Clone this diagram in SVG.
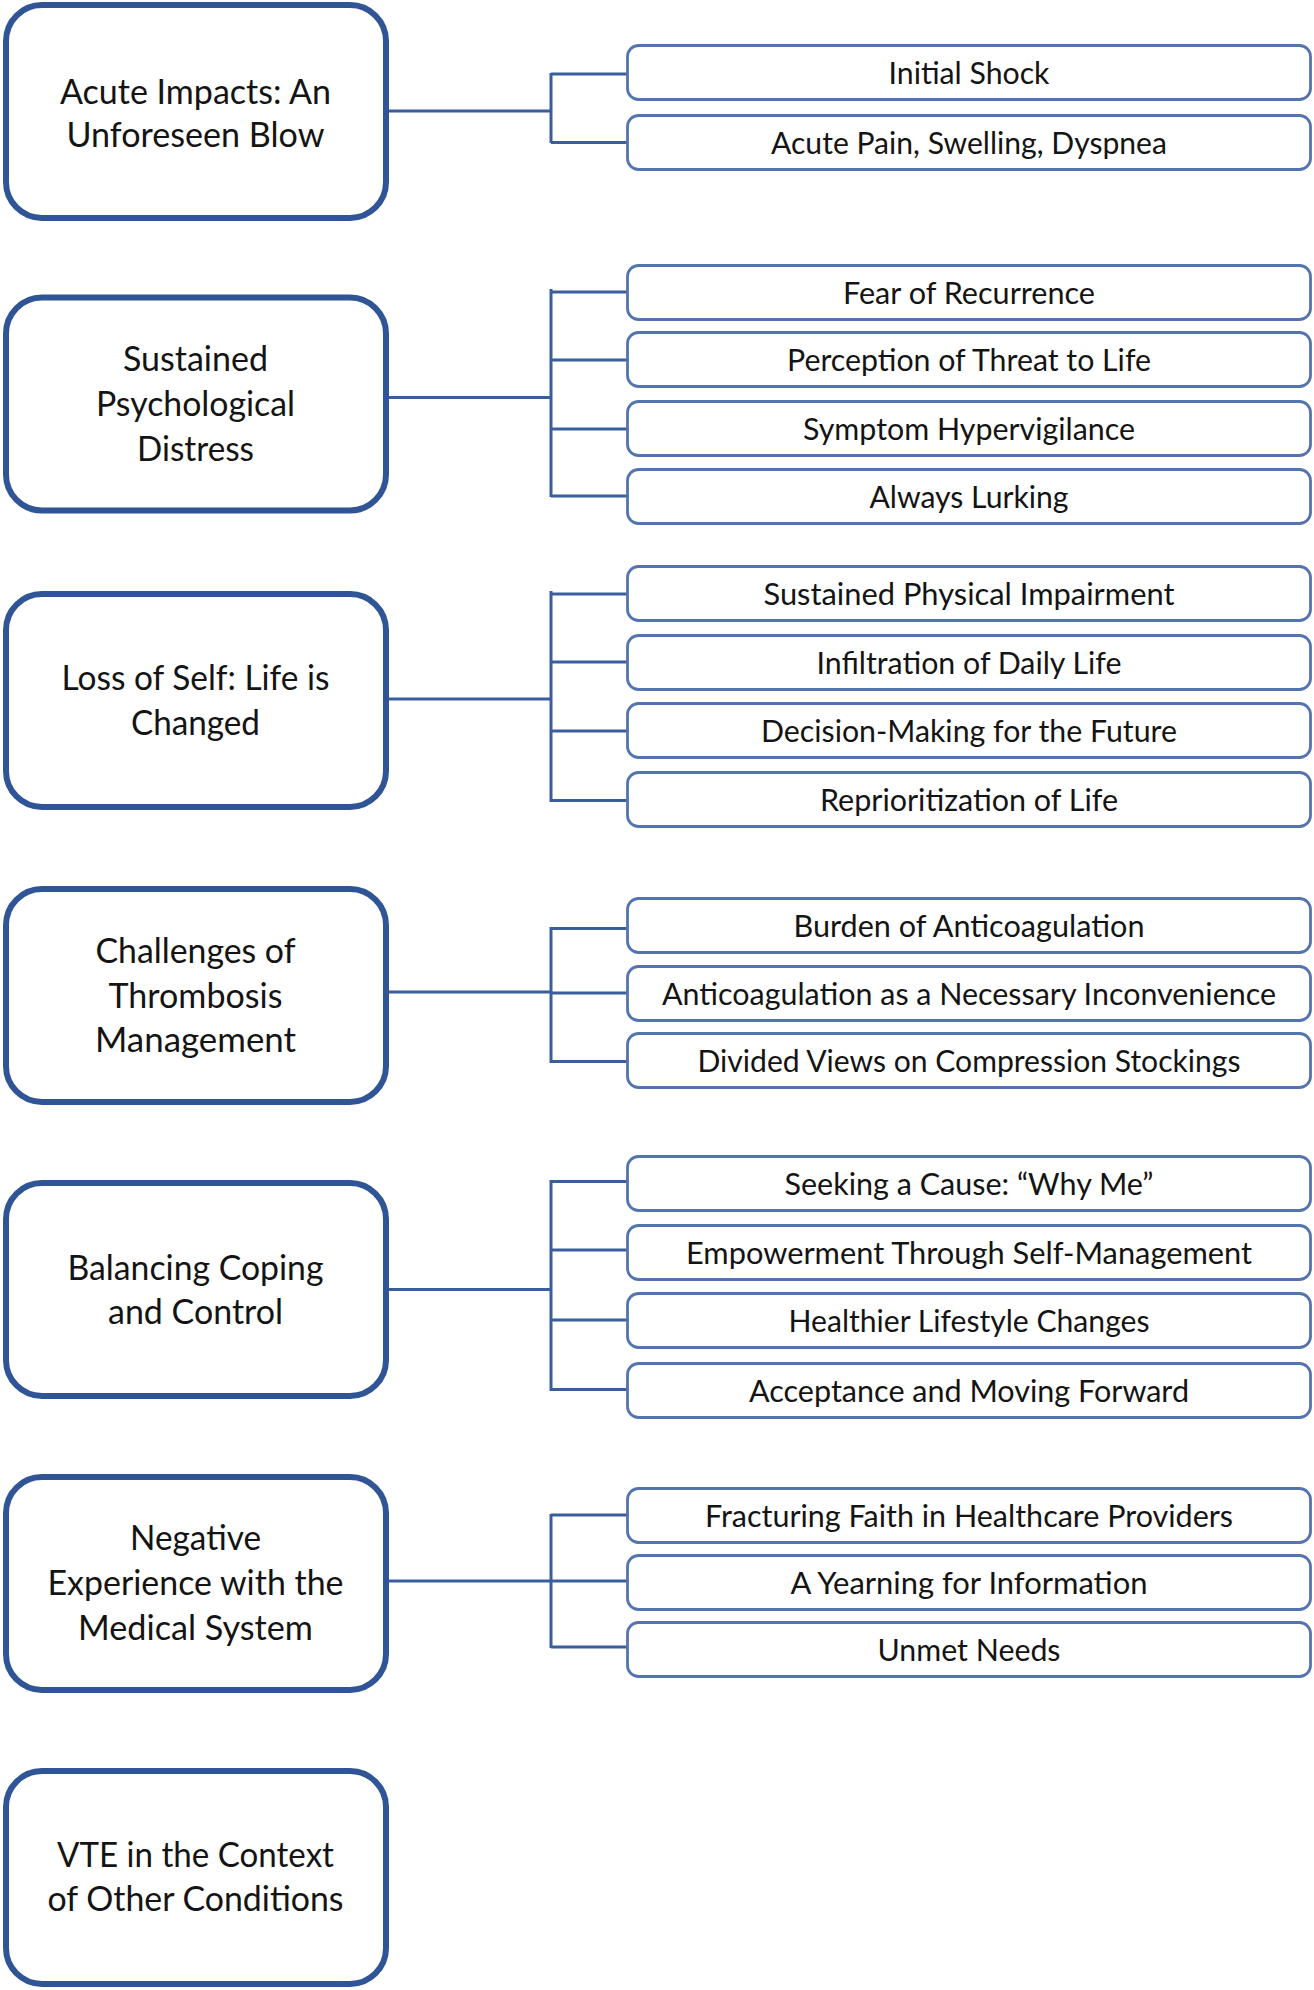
<svg xmlns="http://www.w3.org/2000/svg" width="1314" height="1990" viewBox="0 0 1314 1990">
<style>
.theme rect{fill:#fff;stroke:#2f5597;stroke-width:6}
.sub rect{fill:#fff;stroke:#5474b0;stroke-width:2.8}
.theme text{font-family:Lato,"Liberation Sans",sans-serif;font-size:34px;fill:#141414;text-anchor:middle}
.sub text{font-family:Lato,"Liberation Sans",sans-serif;font-size:30.5px;fill:#141414;text-anchor:middle}
#connectors path{fill:none;stroke:#3a5d9e;stroke-width:3}
</style>
<rect width="1314" height="1990" fill="#fff"/>
<g id="connectors">
<path d="M389 111H551M551 73V143M551 74H627M551 142.5H627"/>
<path d="M389 397.5H551M551 289V497M551 292H627M551 360H627M551 429H627M551 496H627"/>
<path d="M389 699H551M551 591V802M551 594H627M551 662H627M551 731H627M551 800.5H627"/>
<path d="M389 992H551M551 927V1063M551 928.5H627M551 993H627M551 1061.5H627"/>
<path d="M389 1289.5H551M551 1180V1391M551 1181.5H627M551 1250H627M551 1320H627M551 1389.5H627"/>
<path d="M389 1581H551M551 1514V1648M551 1515H627M551 1581H627M551 1647H627"/>
</g>
<g id="theme1" class="theme"><rect x="6" y="5" width="380" height="213" rx="36"/>
<text x="195.5" y="103.5" textLength="271" lengthAdjust="spacingAndGlyphs">Acute Impacts: An</text>
<text x="195.5" y="146.5" textLength="258" lengthAdjust="spacingAndGlyphs">Unforeseen Blow</text></g>
<g id="theme2" class="theme"><rect x="6" y="297.5" width="380" height="213" rx="36"/>
<text x="195.5" y="371" textLength="145" lengthAdjust="spacingAndGlyphs">Sustained</text>
<text x="195.5" y="416" textLength="199" lengthAdjust="spacingAndGlyphs">Psychological</text>
<text x="195.5" y="460.5" textLength="117" lengthAdjust="spacingAndGlyphs">Distress</text></g>
<g id="theme3" class="theme"><rect x="6" y="594" width="380" height="213" rx="36"/>
<text x="195.5" y="690" textLength="268" lengthAdjust="spacingAndGlyphs">Loss of Self: Life is</text>
<text x="195.5" y="734.5" textLength="129" lengthAdjust="spacingAndGlyphs">Changed</text></g>
<g id="theme4" class="theme"><rect x="6" y="889" width="380" height="213" rx="36"/>
<text x="195.5" y="963" textLength="200" lengthAdjust="spacingAndGlyphs">Challenges of</text>
<text x="195.5" y="1007.5" textLength="174" lengthAdjust="spacingAndGlyphs">Thrombosis</text>
<text x="195.5" y="1052" textLength="201" lengthAdjust="spacingAndGlyphs">Management</text></g>
<g id="theme5" class="theme"><rect x="6" y="1183" width="380" height="213" rx="36"/>
<text x="195.5" y="1280" textLength="256" lengthAdjust="spacingAndGlyphs">Balancing Coping</text>
<text x="195.5" y="1324" textLength="175" lengthAdjust="spacingAndGlyphs">and Control</text></g>
<g id="theme6" class="theme"><rect x="6" y="1477" width="380" height="213" rx="36"/>
<text x="195.5" y="1550" textLength="131" lengthAdjust="spacingAndGlyphs">Negative</text>
<text x="195.5" y="1595" textLength="296" lengthAdjust="spacingAndGlyphs">Experience with the</text>
<text x="195.5" y="1639.5" textLength="235" lengthAdjust="spacingAndGlyphs">Medical System</text></g>
<g id="theme7" class="theme"><rect x="6" y="1771" width="380" height="213" rx="36"/>
<text x="195.5" y="1867" textLength="277" lengthAdjust="spacingAndGlyphs">VTE in the Context</text>
<text x="195.5" y="1911" textLength="296" lengthAdjust="spacingAndGlyphs">of Other Conditions</text></g>
<g id="sub1a" class="sub"><rect x="627.5" y="45.5" width="683" height="54" rx="11"/><text x="969" y="83.5" textLength="161" lengthAdjust="spacingAndGlyphs">Initial Shock</text></g>
<g id="sub1b" class="sub"><rect x="627.5" y="115.5" width="683" height="54" rx="11"/><text x="969" y="153.5" textLength="396" lengthAdjust="spacingAndGlyphs">Acute Pain, Swelling, Dyspnea</text></g>
<g id="sub2a" class="sub"><rect x="627.5" y="265.5" width="683" height="54" rx="11"/><text x="969" y="303.5" textLength="252" lengthAdjust="spacingAndGlyphs">Fear of Recurrence</text></g>
<g id="sub2b" class="sub"><rect x="627.5" y="332.5" width="683" height="54" rx="11"/><text x="969" y="370.5" textLength="364" lengthAdjust="spacingAndGlyphs">Perception of Threat to Life</text></g>
<g id="sub2c" class="sub"><rect x="627.5" y="401.5" width="683" height="54" rx="11"/><text x="969" y="439.5" textLength="332" lengthAdjust="spacingAndGlyphs">Symptom Hypervigilance</text></g>
<g id="sub2d" class="sub"><rect x="627.5" y="469.5" width="683" height="54" rx="11"/><text x="969" y="507.5" textLength="199" lengthAdjust="spacingAndGlyphs">Always Lurking</text></g>
<g id="sub3a" class="sub"><rect x="627.5" y="566.5" width="683" height="54" rx="11"/><text x="969" y="604.5" textLength="411" lengthAdjust="spacingAndGlyphs">Sustained Physical Impairment</text></g>
<g id="sub3b" class="sub"><rect x="627.5" y="635.5" width="683" height="54" rx="11"/><text x="969" y="673.5" textLength="305" lengthAdjust="spacingAndGlyphs">Infiltration of Daily Life</text></g>
<g id="sub3c" class="sub"><rect x="627.5" y="703.5" width="683" height="54" rx="11"/><text x="969" y="741.5" textLength="416" lengthAdjust="spacingAndGlyphs">Decision-Making for the Future</text></g>
<g id="sub3d" class="sub"><rect x="627.5" y="772.5" width="683" height="54" rx="11"/><text x="969" y="810.5" textLength="298" lengthAdjust="spacingAndGlyphs">Reprioritization of Life</text></g>
<g id="sub4a" class="sub"><rect x="627.5" y="898.5" width="683" height="54" rx="11"/><text x="969" y="936.5" textLength="351" lengthAdjust="spacingAndGlyphs">Burden of Anticoagulation</text></g>
<g id="sub4b" class="sub"><rect x="627.5" y="966.5" width="683" height="54" rx="11"/><text x="969" y="1004.5" textLength="614" lengthAdjust="spacingAndGlyphs">Anticoagulation as a Necessary Inconvenience</text></g>
<g id="sub4c" class="sub"><rect x="627.5" y="1033.5" width="683" height="54" rx="11"/><text x="969" y="1071.5" textLength="543" lengthAdjust="spacingAndGlyphs">Divided Views on Compression Stockings</text></g>
<g id="sub5a" class="sub"><rect x="627.5" y="1156.5" width="683" height="54" rx="11"/><text x="969" y="1194.5" textLength="369" lengthAdjust="spacingAndGlyphs">Seeking a Cause: “Why Me”</text></g>
<g id="sub5b" class="sub"><rect x="627.5" y="1225.5" width="683" height="54" rx="11"/><text x="969" y="1263.5" textLength="566" lengthAdjust="spacingAndGlyphs">Empowerment Through Self-Management</text></g>
<g id="sub5c" class="sub"><rect x="627.5" y="1293.5" width="683" height="54" rx="11"/><text x="969" y="1331.5" textLength="361" lengthAdjust="spacingAndGlyphs">Healthier Lifestyle Changes</text></g>
<g id="sub5d" class="sub"><rect x="627.5" y="1363.5" width="683" height="54" rx="11"/><text x="969" y="1401.5" textLength="440" lengthAdjust="spacingAndGlyphs">Acceptance and Moving Forward</text></g>
<g id="sub6a" class="sub"><rect x="627.5" y="1488.5" width="683" height="54" rx="11"/><text x="969" y="1526.5" textLength="528" lengthAdjust="spacingAndGlyphs">Fracturing Faith in Healthcare Providers</text></g>
<g id="sub6b" class="sub"><rect x="627.5" y="1555.5" width="683" height="54" rx="11"/><text x="969" y="1593.5" textLength="357" lengthAdjust="spacingAndGlyphs">A Yearning for Information</text></g>
<g id="sub6c" class="sub"><rect x="627.5" y="1622.5" width="683" height="54" rx="11"/><text x="969" y="1660.5" textLength="183" lengthAdjust="spacingAndGlyphs">Unmet Needs</text></g>
</svg>
